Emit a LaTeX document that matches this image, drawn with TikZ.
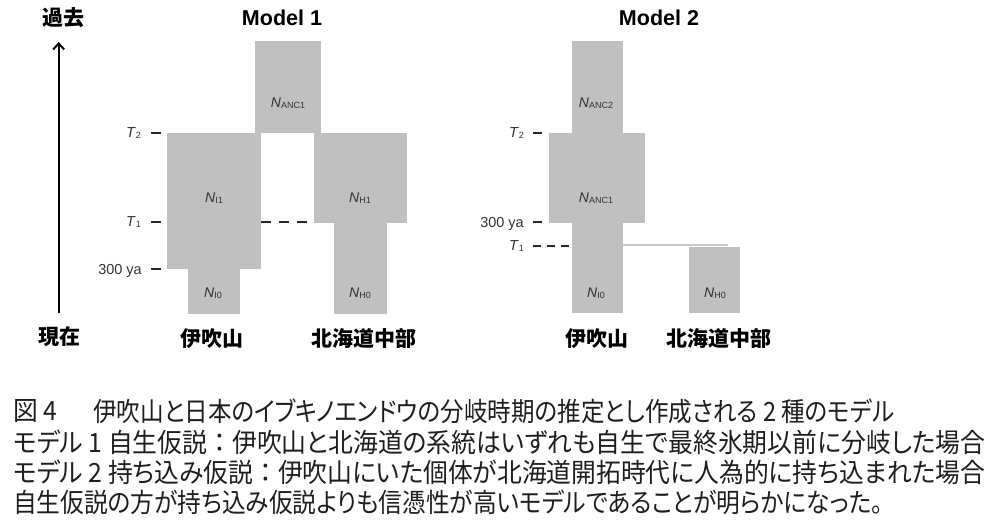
\documentclass[tikz,border=0pt]{standalone}
\usepackage{fontspec}
\usepackage{graphicx}
\setmainfont{Liberation Sans}
\newfontfamily\cjk{Noto Sans CJK JP}
\newfontfamily\cjkp{Noto Sans CJK JP}[RawFeature=+palt]
\usetikzlibrary{arrows.meta}
\definecolor{boxgray}{RGB}{192,192,192}
\definecolor{linegray}{RGB}{200,200,200}
\definecolor{labgray}{RGB}{50,50,50}
\definecolor{capcol}{RGB}{30,30,30}
\newcommand\popN[1]{\textit{N}{\fontsize{9}{9}\selectfont\raisebox{-0.8pt}{#1}}}
\newcommand\popT[1]{\textit{T}{\fontsize{9}{9}\selectfont\raisebox{-0.8pt}{#1}}}
\newcommand\capfit[2]{\resizebox{#1}{\height}{#2}}
\newcommand\jcolon{{\cjk ：}}
\begin{document}
\begin{tikzpicture}[x=1pt,y=-1pt,
  popbox/.style={fill=boxgray,draw=none,inner sep=0pt,outer sep=0pt},
  poplab/.style={font=\fontsize{14}{14}\selectfont,text=labgray,inner sep=0pt},
  ticklab/.style={font=\fontsize{14.5}{14.5}\selectfont,text=labgray,anchor=east,inner sep=0pt,text depth=0pt},
  tickline/.style={line width=2pt,draw=black!85},
  dashline/.style={line width=2pt,draw=black!85,dash pattern=on 10pt off 8pt},
  dash2line/.style={line width=2pt,draw=black!85,dash pattern=on 8pt off 6pt},
  title/.style={font=\bfseries\fontsize{21.5}{21.5}\selectfont,inner sep=0pt},
  jlab/.style={font=\cjk\bfseries\fontsize{21}{21}\selectfont,inner sep=0pt},
  capt/.style={font=\cjkp\fontsize{26.5}{26.5}\selectfont,text=capcol,inner sep=0pt,anchor=west},
]
\useasboundingbox (0,0) rectangle (997,525);

% time axis
\node[jlab] (past) at (63,18) {過去};
\node[jlab] (now) at (59,337) {現在};
\coordinate (axb) at (58.7,313);
\coordinate (axt) at (58.7,42);
\draw[line width=2pt,-{Straight Barb[length=6pt,width=11pt,line width=2pt]}] (axb) -- (axt);

% ---------- Model 1 ----------
\node[title] (t1) at (282,18) {Model 1};
\node[popbox,minimum width=66pt,minimum height=92pt] (m1anc) at (288,87) {};
\node[popbox,minimum width=94pt,minimum height=136pt] (m1i1) at (214,201) {};
\node[popbox,minimum width=52pt,minimum height=45pt] (m1i0) at (214,291.5) {};
\node[popbox,minimum width=93pt,minimum height=90pt] (m1h1) at (360.5,178) {};
\node[popbox,minimum width=53pt,minimum height=91pt] (m1h0) at (360.5,268.5) {};

\node[poplab] (l1anc) at (288,103) {\popN{ANC1}};
\node[poplab] (l1i1) at (214,198) {\popN{I1}};
\node[poplab] (l1i0) at (213,293) {\popN{I0}};
\node[poplab] (l1h1) at (360,198) {\popN{H1}};
\node[poplab] (l1h0) at (360,293) {\popN{H0}};

\coordinate (m1k2a) at (151,133); \coordinate (m1k2b) at (161,133);
\coordinate (m1k1a) at (151,222); \coordinate (m1k1b) at (161,222);
\coordinate (m1k3a) at (151,269); \coordinate (m1k3b) at (161,269);
\draw[tickline] (m1k2a) -- (m1k2b);
\draw[tickline] (m1k1a) -- (m1k1b);
\draw[tickline] (m1k3a) -- (m1k3b);
\node[ticklab] (m1T2) at (141,133) {\popT{2}};
\node[ticklab] (m1T1) at (141,222) {\popT{1}};
\node[ticklab] (m1ya) at (142,269) {300 ya};
\coordinate (m1d1) at (m1i1.east |- 0,222);
\coordinate (m1d2) at (m1h1.west |- 0,222);
\draw[dashline] (m1d1) -- (m1d2);

\node[jlab] (m1ib) at (212,339) {伊吹山};
\node[jlab] (m1hk) at (364,339) {北海道中部};

% ---------- Model 2 ----------
\node[title] (t2) at (659,18) {Model 2};
\node[popbox,minimum width=51pt,minimum height=92pt] (m2anc2) at (597.5,87) {};
\node[popbox,minimum width=96pt,minimum height=90pt] (m2anc1) at (597,178) {};
\node[popbox,minimum width=51pt,minimum height=90pt] (m2i0) at (597.5,268) {};
\node[popbox,minimum width=51pt,minimum height=66pt] (m2h0) at (714.5,280) {};

\node[poplab] (l2anc2) at (596,103) {\popN{ANC2}};
\node[poplab] (l2anc1) at (596,198) {\popN{ANC1}};
\node[poplab] (l2i0) at (596,293) {\popN{I0}};
\node[poplab] (l2h0) at (715,293) {\popN{H0}};

\coordinate (m2l1) at (m2i0.east |- 0,245);
\coordinate (m2l2) at (728,245);
\draw[line width=2pt,draw=linegray] (m2l1) -- (m2l2);

\coordinate (m2k2a) at (533,133); \coordinate (m2k2b) at (542,133);
\coordinate (m2k3a) at (533,222); \coordinate (m2k3b) at (542,222);
\coordinate (m2k1a) at (533,246);
\coordinate (m2k1b) at (m2i0.west |- 0,246);
\draw[tickline] (m2k2a) -- (m2k2b);
\draw[tickline] (m2k3a) -- (m2k3b);
\draw[dash2line] (m2k1a) -- (m2k1b);
\node[ticklab] (m2T2) at (524,133) {\popT{2}};
\node[ticklab] (m2ya) at (524,222) {300 ya};
\node[ticklab] (m2T1) at (524,246) {\popT{1}};

\node[jlab] (m2ib) at (597,339) {伊吹山};
\node[jlab] (m2hk) at (719,339) {北海道中部};

% ---------- caption ----------
\node[capt] (c1a) at (13,411) {\capfit{44pt}{図 4}};
\node[capt] (c1b) at (93,411) {\capfit{801pt}{伊吹山と日本のイブキノエンドウの分岐時期の推定とし作成される 2 種のモデル}};
\node[capt] (c2) at (13,442) {\capfit{972pt}{モデル 1 自生仮説\jcolon 伊吹山と北海道の系統はいずれも自生で最終氷期以前に分岐した場合}};
\node[capt] (c3) at (13,472) {\capfit{972pt}{モデル 2 持ち込み仮説\jcolon 伊吹山にいた個体が北海道開拓時代に人為的に持ち込まれた場合}};
\node[capt] (c4) at (13,502) {\capfit{870pt}{自生仮説の方が持ち込み仮説よりも信憑性が高いモデルであることが明らかになった。}};
\end{tikzpicture}
\end{document}
